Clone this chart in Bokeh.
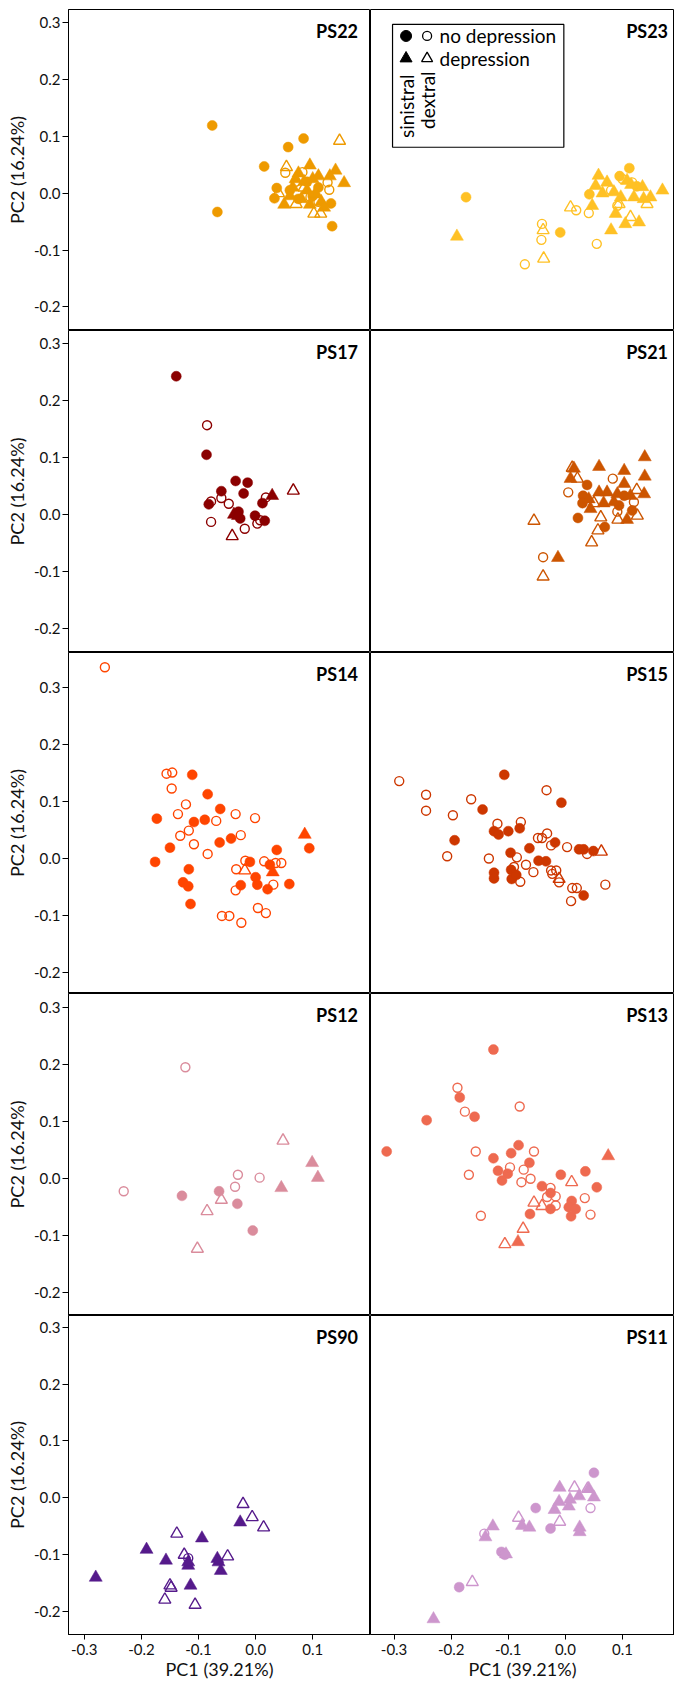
import math
from bokeh.plotting import figure
from bokeh.layouts import column, row
from bokeh.models import Range1d, FixedTicker, PrintfTickFormatter, Label, BoxAnnotation
from bokeh.embed import file_html
from bokeh.resources import INLINE

FONT = "Lato"

# ---------------- data (PC1, PC2) per population and group ----------------
# sin = sinistral (filled), dex = dextral (open); nodep = circle, dep = triangle
ps22_sin_nodep_x = [-0.076, -0.067, 0.015, 0.057, 0.084, 0.037, 0.033, 0.132, 0.134, 0.060, 0.090, 0.110, 0.075, 0.100]
ps22_sin_nodep_y = [0.119, -0.033, 0.047, 0.081, 0.096, 0.009, -0.009, -0.018, -0.058, 0.005, 0.020, 0.010, -0.010, -0.005]
ps22_dex_nodep_x = [0.052, 0.082, 0.126, 0.129, 0.096, 0.070, 0.110]
ps22_dex_nodep_y = [0.036, 0.037, 0.019, 0.006, -0.007, 0.020, -0.015]
ps22_sin_dep_x = [0.095, 0.140, 0.155, 0.050, 0.065, 0.075, 0.085, 0.100, 0.105, 0.115, 0.080, 0.090, 0.120, 0.070, 0.060, 0.110, 0.130, 0.095]
ps22_sin_dep_y = [0.049, 0.040, 0.018, -0.020, 0.010, 0.035, 0.020, 0.025, 0.000, -0.015, -0.010, 0.005, -0.025, 0.025, -0.005, 0.030, 0.030, -0.020]
ps22_dex_dep_x = [0.147, 0.054, 0.071, 0.102, 0.114, 0.085, 0.040]
ps22_dex_dep_y = [0.092, 0.046, -0.019, -0.036, -0.036, 0.010, 0.000]

ps23_sin_nodep_x = [-0.174, -0.009, 0.042, 0.112, 0.095, 0.125]
ps23_sin_nodep_y = [-0.007, -0.069, -0.002, 0.044, 0.030, 0.012]
ps23_dex_nodep_x = [-0.041, -0.042, -0.071, 0.019, 0.041, 0.055, 0.100, 0.117, 0.091, 0.080]
ps23_dex_nodep_y = [-0.054, -0.082, -0.125, -0.030, -0.035, -0.089, 0.025, 0.019, -0.022, 0.005]
ps23_sin_dep_x = [-0.190, 0.058, 0.073, 0.053, 0.047, 0.080, 0.105, 0.129, 0.170, 0.149, 0.135, 0.085, 0.097, 0.120, 0.088, 0.108, 0.137, 0.065, 0.115]
ps23_sin_dep_y = [-0.076, 0.031, 0.019, 0.013, -0.022, -0.065, -0.054, -0.051, 0.005, -0.007, 0.011, 0.002, -0.007, -0.007, -0.036, 0.022, -0.010, 0.000, 0.015]
ps23_dex_dep_x = [0.009, -0.039, -0.038, 0.114, 0.143, 0.094]
ps23_dex_dep_y = [-0.025, -0.065, -0.115, -0.042, -0.019, -0.019]

ps17_sin_nodep_x = [-0.139, -0.086, -0.035, -0.014, -0.060, -0.021, -0.082, -0.030, -0.027, -0.001, 0.012, 0.016]
ps17_sin_nodep_y = [0.243, 0.105, 0.059, 0.056, 0.041, 0.037, 0.018, 0.005, -0.007, -0.002, 0.020, -0.011]
ps17_dex_nodep_x = [-0.085, -0.078, -0.060, -0.047, -0.078, -0.019, 0.003, 0.018, 0.008]
ps17_dex_nodep_y = [0.157, 0.023, 0.029, 0.019, -0.013, -0.025, -0.016, 0.030, -0.010]
ps17_sin_dep_x = [0.029, -0.038, -0.031]
ps17_sin_dep_y = [0.033, 0.000, -0.002]
ps17_dex_dep_x = [0.066, -0.041]
ps17_dex_dep_y = [0.042, -0.038]

ps21_sin_nodep_x = [0.038, 0.031, 0.030, 0.022, 0.069, 0.094, 0.117, 0.103]
ps21_sin_nodep_y = [0.052, 0.033, 0.020, -0.006, -0.022, 0.016, 0.007, 0.033]
ps21_dex_nodep_x = [0.083, 0.005, -0.039, 0.091, 0.120]
ps21_dex_nodep_y = [0.063, 0.039, -0.075, 0.005, 0.022]
ps21_sin_dep_x = [0.139, 0.139, 0.138, 0.059, 0.015, 0.009, 0.103, 0.103, 0.059, 0.073, 0.091, 0.041, 0.067, 0.044, 0.108, -0.013, 0.114, 0.085]
ps21_sin_dep_y = [0.101, 0.067, 0.036, 0.084, 0.081, 0.063, 0.077, 0.054, 0.039, 0.039, 0.036, 0.027, 0.020, 0.010, -0.009, -0.076, 0.033, 0.022]
ps21_dex_dep_x = [-0.055, -0.039, 0.046, 0.057, 0.062, 0.092, 0.126, 0.125, 0.012, 0.050, 0.021]
ps21_dex_dep_y = [-0.011, -0.109, -0.049, -0.028, -0.005, -0.009, -0.002, 0.043, 0.082, 0.020, 0.063]

ps14_sin_nodep_x = [-0.111, -0.084, -0.173, -0.108, -0.089, -0.062, -0.063, -0.043, -0.150, -0.176, -0.117, -0.127, -0.118, -0.114, -0.010, -0.026, 0.000, 0.003, 0.021, 0.037, 0.025, 0.059, 0.094]
ps14_sin_nodep_y = [0.147, 0.113, 0.070, 0.064, 0.068, 0.087, 0.028, 0.035, 0.019, -0.006, -0.019, -0.042, -0.049, -0.080, -0.006, -0.047, -0.033, -0.046, -0.054, 0.015, -0.011, -0.045, 0.018]
ps14_dex_nodep_x = [-0.264, -0.156, -0.146, -0.147, -0.122, -0.136, -0.132, -0.117, -0.108, -0.084, -0.069, -0.035, -0.001, -0.026, -0.018, -0.034, -0.035, 0.015, 0.045, 0.035, 0.031, 0.004, 0.018, -0.059, -0.046, -0.025]
ps14_dex_nodep_y = [0.336, 0.149, 0.151, 0.123, 0.095, 0.078, 0.040, 0.049, 0.025, 0.008, 0.066, 0.078, 0.071, 0.041, -0.004, -0.019, -0.056, -0.005, -0.008, -0.008, -0.046, -0.087, -0.096, -0.101, -0.101, -0.113]
ps14_sin_dep_x = [0.086, 0.030]
ps14_sin_dep_y = [0.042, -0.024]
ps14_dex_dep_x = [-0.019]
ps14_dex_dep_y = [-0.021]

ps15_sin_nodep_x = [-0.107, -0.007, -0.145, -0.194, -0.125, -0.117, -0.100, -0.080, -0.096, -0.063, -0.018, -0.047, -0.034, -0.125, -0.125, -0.095, -0.094, -0.086, 0.024, 0.032, 0.049, 0.032]
ps15_sin_nodep_y = [0.147, 0.098, 0.086, 0.032, 0.048, 0.042, 0.048, 0.053, 0.010, 0.018, 0.028, -0.004, -0.005, -0.025, -0.035, -0.020, -0.036, -0.029, 0.016, 0.016, 0.013, -0.065]
ps15_dex_nodep_x = [-0.291, -0.244, -0.244, -0.197, -0.165, -0.207, -0.134, -0.119, -0.078, -0.033, -0.048, -0.041, -0.032, -0.025, 0.003, -0.085, -0.069, -0.056, -0.090, -0.079, -0.025, -0.016, -0.011, -0.023, 0.012, 0.020, 0.010, 0.070, 0.038]
ps15_dex_nodep_y = [0.136, 0.112, 0.084, 0.076, 0.104, 0.004, 0.000, 0.061, 0.064, 0.120, 0.036, 0.036, 0.044, 0.023, 0.020, 0.002, -0.011, -0.024, -0.015, -0.041, -0.021, -0.021, -0.042, -0.027, -0.052, -0.052, -0.075, -0.046, 0.008]
ps15_sin_dep_x = []
ps15_sin_dep_y = []
ps15_dex_dep_x = [0.063, -0.011]
ps15_dex_dep_y = [0.012, -0.036]

ps12_sin_nodep_x = [-0.129, -0.064, -0.032, -0.005]
ps12_sin_nodep_y = [-0.031, -0.023, -0.045, -0.092]
ps12_dex_nodep_x = [-0.123, -0.231, -0.031, -0.036, 0.007]
ps12_dex_nodep_y = [0.195, -0.023, 0.006, -0.015, 0.001]
ps12_sin_dep_x = [0.099, 0.109, 0.045]
ps12_sin_dep_y = [0.027, 0.001, -0.017]
ps12_dex_dep_x = [0.048, -0.085, -0.060, -0.102]
ps12_dex_dep_y = [0.066, -0.058, -0.038, -0.124]

ps13_sin_nodep_x = [-0.126, -0.185, -0.243, -0.159, -0.313, -0.082, -0.095, -0.126, -0.063, -0.118, -0.101, -0.111, -0.008, 0.035, 0.055, -0.041, -0.026, -0.026, -0.062, 0.011, 0.006, 0.018, 0.010]
ps13_sin_nodep_y = [0.226, 0.142, 0.102, 0.108, 0.047, 0.058, 0.044, 0.035, 0.027, 0.013, 0.008, -0.004, 0.006, 0.012, -0.016, -0.014, -0.026, -0.054, -0.063, -0.040, -0.051, -0.054, -0.067]
ps13_dex_nodep_x = [-0.189, -0.176, -0.080, -0.157, -0.055, -0.169, -0.097, -0.073, -0.077, -0.061, -0.026, -0.032, -0.017, -0.017, 0.034, 0.044, -0.148]
ps13_dex_nodep_y = [0.159, 0.117, 0.126, 0.047, 0.047, 0.006, 0.019, 0.015, -0.007, -0.001, -0.017, -0.033, -0.032, -0.048, -0.035, -0.064, -0.066]
ps13_sin_dep_x = [0.075, -0.083]
ps13_sin_dep_y = [0.039, -0.112]
ps13_dex_dep_x = [0.011, -0.055, -0.041, -0.074, -0.106]
ps13_dex_dep_y = [-0.007, -0.043, -0.049, -0.089, -0.116]

ps90_sin_nodep_x = []
ps90_sin_nodep_y = []
ps90_dex_nodep_x = [-0.118]
ps90_dex_nodep_y = [-0.106]
ps90_sin_dep_x = [-0.280, -0.191, -0.157, -0.094, -0.118, -0.118, -0.114, -0.067, -0.065, -0.061, -0.027]
ps90_sin_dep_y = [-0.140, -0.091, -0.110, -0.071, -0.119, -0.113, -0.154, -0.107, -0.113, -0.128, -0.043]
ps90_dex_dep_x = [-0.022, -0.006, 0.014, -0.138, -0.125, -0.049, -0.150, -0.148, -0.159, -0.106]
ps90_dex_dep_y = [-0.011, -0.034, -0.052, -0.063, -0.100, -0.103, -0.154, -0.158, -0.179, -0.188]

ps11_sin_nodep_x = [0.050, -0.052, -0.026, -0.112, -0.106, -0.186]
ps11_sin_nodep_y = [0.044, -0.018, -0.054, -0.095, -0.100, -0.157]
ps11_dex_nodep_x = [-0.142, 0.044]
ps11_dex_nodep_y = [-0.063, -0.018]
ps11_sin_dep_x = [-0.231, -0.140, -0.127, -0.104, -0.076, -0.063, -0.010, -0.011, -0.019, 0.006, 0.024, 0.041, 0.050, 0.025, 0.025, 0.008]
ps11_sin_dep_y = [-0.213, -0.069, -0.050, -0.099, -0.049, -0.052, 0.018, -0.007, -0.021, -0.015, 0.003, 0.016, 0.001, -0.052, -0.060, -0.003]
ps11_dex_dep_x = [-0.163, -0.082, -0.010, 0.016, 0.039]
ps11_dex_dep_y = [-0.148, -0.035, -0.042, 0.018, 0.016]

panel_names = ["PS22", "PS23", "PS17", "PS21", "PS14", "PS15", "PS12", "PS13", "PS90", "PS11"]
panel_colors = ["#EE9A00", "#FFC125", "#8B0000", "#CC5500", "#FF4500",
                "#CD3700", "#DA8C9C", "#EE6A50", "#551A8B", "#CD96CD"]

y_ticks = [-0.2, -0.1, 0.0, 0.1, 0.2, 0.3]
x_ticks = [-0.3, -0.2, -0.1, 0.0, 0.1]

legend_labels = ["no depression", "depression"]
legend_side_labels = ["sinistral", "dextral"]

# ---------------- layout ----------------
AXIS_W = 68
LEFT_FRAME_W = 302
RIGHT_W = 304
TOP = 9
BOTTOM = 50
FRAME_H = [321, 322, 341, 322, 319]
X_RANGES = [(-0.3277, 0.2012), (-0.3413, 0.1911)]
Y_RANGES = [(-0.2413, 0.3228), (-0.2425, 0.3234), (-0.2373, 0.3620),
            (-0.2413, 0.3246), (-0.2402, 0.3204)]
PX_PER_UNIT = 570.0

g = globals()


def make_panel(idx):
    r, c = divmod(idx, 2)
    name = panel_names[idx]
    color = panel_colors[idx]
    xr = X_RANGES[c]
    yr = Y_RANGES[r]
    top = TOP if r == 0 else 0
    bottom = BOTTOM if r == 4 else 0
    left = AXIS_W if c == 0 else 0
    width = AXIS_W + LEFT_FRAME_W if c == 0 else RIGHT_W
    height = FRAME_H[r] + top + bottom
    p = figure(width=width, height=height,
               x_range=Range1d(*xr), y_range=Range1d(*yr),
               x_axis_location="below" if r == 4 else None,
               y_axis_location="left" if c == 0 else None,
               output_backend="svg", toolbar_location=None,
               min_border=0, min_border_left=left, min_border_right=0,
               min_border_top=top, min_border_bottom=bottom,
               background_fill_color="white", border_fill_color="white",
               outline_line_color="black", outline_line_width=1)
    p.xgrid.grid_line_color = None
    p.ygrid.grid_line_color = None

    if c == 0:
        ax = p.yaxis[0]
        ax.ticker = FixedTicker(ticks=y_ticks)
        ax.formatter = PrintfTickFormatter(format="%.1f")
        ax.major_tick_out = 6
        ax.major_tick_in = 0
        ax.minor_tick_out = 0
        ax.minor_tick_in = 0
        ax.major_label_standoff = 2
        ax.major_label_text_font = FONT
        ax.major_label_text_font_size = "15px"
        ax.major_label_text_color = "#111111"
        ax.axis_label = "PC2 (16.24%)"
        ax.axis_label_text_font = FONT
        ax.axis_label_text_font_size = "18px"
        ax.axis_label_text_font_style = "normal"
        ax.axis_label_text_color = "#111111"
        ax.axis_label_standoff = 3
        ax.axis_line_color = "black"
        ax.major_tick_line_color = "black"
    if r == 4:
        ax = p.xaxis[0]
        ax.ticker = FixedTicker(ticks=x_ticks)
        ax.formatter = PrintfTickFormatter(format="%.1f")
        ax.major_tick_out = 5
        ax.major_tick_in = 0
        ax.minor_tick_out = 0
        ax.minor_tick_in = 0
        ax.major_label_standoff = 4
        ax.major_label_text_font = FONT
        ax.major_label_text_font_size = "15px"
        ax.major_label_text_color = "#111111"
        ax.axis_label = "PC1 (39.21%)"
        ax.axis_label_text_font = FONT
        ax.axis_label_text_font_size = "18px"
        ax.axis_label_text_font_style = "normal"
        ax.axis_label_text_color = "#111111"
        ax.axis_label_standoff = 0
        ax.axis_line_color = "black"
        ax.major_tick_line_color = "black"

    key = name.lower()
    p.scatter(g[key + "_sin_nodep_x"], g[key + "_sin_nodep_y"], marker="circle",
              size=10, fill_color=color, line_color=color, line_width=0.5)
    p.scatter(g[key + "_dex_nodep_x"], g[key + "_dex_nodep_y"], marker="circle",
              size=9, fill_color=None, line_color=color, line_width=1.4)
    p.scatter(g[key + "_sin_dep_x"], g[key + "_sin_dep_y"], marker="triangle",
              size=13, fill_color=color, line_color=color, line_width=0.5)
    p.scatter(g[key + "_dex_dep_x"], g[key + "_dex_dep_y"], marker="triangle",
              size=12, fill_color=None, line_color=color, line_width=1.4)

    # helpers: pixel offsets inside the frame -> data coordinates
    def px2x(px):
        return xr[0] + px / PX_PER_UNIT

    def py2y(py):
        return yr[1] - py / PX_PER_UNIT

    frame_w = LEFT_FRAME_W if c == 0 else RIGHT_W
    right_pad = 13 if c == 0 else 7
    p.add_layout(Label(x=px2x(frame_w - right_pad), y=py2y(22), text=name,
                       text_align="right", text_baseline="middle",
                       text_font=FONT, text_font_size="18px",
                       text_font_style="bold", text_color="black"))

    if idx == 1:
        p.add_layout(BoxAnnotation(left=px2x(22), right=px2x(193), top=py2y(15),
                                   bottom=py2y(138), fill_color="white", fill_alpha=1.0,
                                   line_color="black", line_alpha=1.0, line_width=1.2,
                                   level="underlay"))
        lx = [px2x(35.5), px2x(56.5)]
        ly = [py2y(26.5), py2y(49)]
        p.scatter([lx[0]], [ly[0]], marker="circle", size=11, fill_color="black", line_color="black")
        p.scatter([lx[1]], [ly[0]], marker="circle", size=9, fill_color=None,
                  line_color="black", line_width=1.3)
        p.scatter([lx[0]], [ly[1]], marker="triangle", size=12, fill_color="black", line_color="black")
        p.scatter([lx[1]], [ly[1]], marker="triangle", size=11, fill_color=None,
                  line_color="black", line_width=1.3)
        for t, yy in zip(legend_labels, ly):
            p.add_layout(Label(x=px2x(69), y=yy, text=t, text_align="left",
                               text_baseline="middle", text_font=FONT,
                               text_font_size="19px", text_color="black"))
        for t, xx, yy in zip(legend_side_labels, lx, [py2y(65), py2y(62)]):
            p.add_layout(Label(x=xx, y=yy, text=t, angle=math.pi / 2,
                               text_align="right", text_baseline="middle",
                               text_font=FONT, text_font_size="19px",
                               text_color="black"))
    return p


figs = [make_panel(i) for i in range(10)]
layout = column([row(figs[2 * r], figs[2 * r + 1]) for r in range(5)])

open("out.html", "w").write(file_html(layout, INLINE))
